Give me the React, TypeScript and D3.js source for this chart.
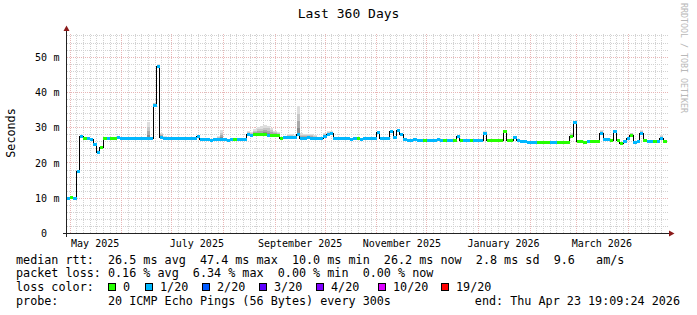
import * as d3 from 'd3';

const W = 697;
const H = 315;
const DAY = 86400000;
const endTime = new Date(2026, 3, 23, 19, 9, 24);
const startTime = new Date(endTime.getTime() - 360 * DAY);
const STEP_DAYS = 2;

// median rtt in ms, one value every 2 days
const medianRtt = [
  10.0, 10.1, 10.0, 17.5, 27.4, 26.8, 26.8, 26.7, 25.3, 23.1,
  24.5, 26.8, 26.9, 26.9, 26.8, 27.1, 26.9, 26.9, 26.8, 26.9,
  27.0, 26.9, 26.8, 26.9, 27.0, 26.8, 36.3, 47.4, 27.3, 26.8,
  26.9, 26.9, 26.8, 26.9, 26.9, 26.8, 26.9, 26.9, 26.8, 27.5,
  26.7, 26.6, 26.6, 26.5, 26.6, 26.6, 26.7, 26.6, 26.5, 26.6,
  26.7, 26.6, 26.6, 26.6, 28.2, 27.9, 28.0, 28.1, 28.0, 28.1,
  27.9, 27.8, 27.7, 27.9, 26.8, 27.1, 27.3, 27.2, 27.3, 28.2,
  27.0, 27.0, 27.1, 26.9, 27.0, 27.0, 26.9, 27.5, 28.0, 28.3,
  26.8, 26.9, 26.8, 26.8, 26.9, 26.7, 26.8, 26.8, 26.7, 26.8,
  26.8, 26.9, 26.8, 28.5, 26.9, 26.9, 26.9, 28.8, 27.2, 29.1,
  28.0, 26.6, 26.5, 26.5, 26.6, 26.5, 26.5, 26.4, 26.5, 26.5,
  26.5, 26.6, 26.5, 26.4, 26.5, 26.5, 26.5, 27.4, 26.5, 26.4,
  26.5, 26.5, 26.4, 26.5, 26.4, 28.3, 26.4, 26.3, 26.4, 26.4,
  26.4, 28.8, 26.4, 26.4, 27.1, 26.3, 26.2, 26.0, 25.9, 25.8,
  25.9, 25.9, 25.8, 25.9, 25.8, 25.9, 25.8, 25.8, 25.7, 25.8,
  25.8, 27.4, 31.4, 26.0, 26.0, 25.9, 26.0, 26.1, 26.0, 26.1,
  28.3, 26.6, 26.6, 26.5, 28.8, 26.4, 25.5, 26.0, 26.9, 27.8,
  25.8, 26.0, 28.3, 26.4, 26.2, 26.1, 26.2, 26.0, 27.0, 26.2,
];

// loss bucket per step: 0 = no loss, 1 = 1/20
const lossBucket = [
  1, 0, 1, 1, 1, 0, 1, 1, 1, 1,
  0, 0, 1, 0, 0, 1, 1, 1, 1, 1,
  1, 1, 1, 1, 1, 1, 1, 1, 1, 1,
  1, 1, 1, 1, 1, 1, 1, 1, 1, 1,
  1, 1, 1, 1, 1, 1, 1, 1, 1, 1,
  0, 1, 1, 1, 1, 1, 0, 0, 0, 0,
  1, 0, 0, 0, 0, 1, 1, 1, 1, 1,
  1, 1, 1, 1, 1, 1, 1, 1, 1, 1,
  1, 1, 1, 1, 1, 1, 1, 0, 1, 1,
  1, 1, 1, 1, 1, 1, 1, 1, 1, 1,
  1, 1, 1, 1, 1, 1, 1, 0, 1, 1,
  1, 1, 1, 0, 1, 1, 0, 1, 0, 1,
  1, 0, 1, 1, 1, 1, 0, 0, 0, 0,
  0, 0, 0, 0, 1, 1, 1, 1, 1, 1,
  1, 0, 0, 0, 0, 1, 1, 0, 0, 0,
  0, 0, 1, 0, 0, 0, 1, 0, 0, 0,
  1, 1, 1, 0, 1, 0, 0, 1, 1, 0,
  1, 1, 1, 0, 1, 1, 0, 1, 1, 0,
];

// smoke: spread of the slowest pings above the median, ms
const smokeSpread = [
  0.2, 0.2, 0.2, 0.3, 0.4, 0.3, 0.3, 0.3, 0.4, 0.5,
  0.4, 0.3, 0.3, 0.3, 0.3, 0.5, 0.3, 0.3, 0.3, 0.3,
  0.3, 0.4, 0.3, 0.3, 4.5, 0.5, 0.8, 0.6, 1.2, 0.8,
  0.3, 0.3, 0.3, 0.3, 0.3, 0.3, 0.3, 0.3, 0.3, 0.5,
  0.3, 0.3, 0.3, 0.3, 0.4, 1.0, 2.6, 0.5, 0.3, 0.3,
  0.3, 0.3, 0.3, 0.4, 0.8, 1.0, 1.5, 2.0, 2.5, 2.6,
  2.7, 2.2, 1.5, 0.8, 0.4, 0.5, 0.8, 1.0, 0.6, 8.0,
  1.4, 1.2, 1.0, 1.4, 0.8, 0.4, 0.3, 1.0, 1.0, 0.8,
  0.3, 0.3, 0.3, 0.3, 0.3, 0.3, 0.3, 0.3, 0.3, 0.3,
  0.3, 0.3, 0.3, 0.6, 0.3, 0.3, 0.4, 0.5, 0.3, 0.5,
  0.4, 0.3, 0.3, 0.3, 0.3, 0.3, 0.3, 0.3, 0.3, 0.3,
  0.3, 0.3, 0.3, 0.3, 0.3, 0.3, 0.3, 0.5, 0.3, 0.3,
  0.3, 0.3, 0.3, 0.3, 0.3, 0.8, 0.3, 0.3, 0.3, 0.3,
  0.3, 0.6, 0.3, 0.3, 0.4, 0.3, 0.3, 0.3, 0.3, 0.3,
  0.3, 0.3, 0.3, 0.3, 0.3, 0.3, 0.3, 0.3, 0.3, 0.3,
  0.3, 1.0, 0.6, 0.3, 0.3, 0.3, 0.3, 0.3, 0.3, 0.3,
  1.0, 0.3, 0.3, 0.3, 0.5, 0.3, 0.3, 0.3, 0.4, 0.8,
  0.3, 0.3, 1.0, 0.3, 0.3, 0.3, 0.3, 0.3, 1.0, 0.3,
];

const yTicks = [0, 10, 20, 30, 40, 50];
const yTickUnits = ['', 'm', 'm', 'm', 'm', 'm'];

const lossColors = ['#26ff00', '#00b8ff', '#0059ff', '#5e00ff', '#7e00ff', '#dd00ff', '#ff0000'];
const lossLabels = ['0', '1/20', '2/20', '3/20', '4/20', '10/20', '19/20'];

const legendRtt = 'median rtt:  26.5 ms avg  47.4 ms max  10.0 ms min  26.2 ms now  2.8 ms sd  9.6   am/s';
const legendLoss = 'packet loss: 0.16 % avg  6.34 % max  0.00 % min  0.00 % now';
const legendProbe = 'probe:       20 ICMP Echo Pings (56 Bytes) every 300s';
const legendEnd = 'end: Thu Apr 23 19:09:24 2026';

// layout
const plotL = 66.5;
const plotR = 666.5;
const plotT = 33.5;
const plotB = 233.5;
const yMax = 56.7;
const LEGEND_BOX_X = [109, 146, 203, 260, 317, 379, 442];
const MONO = '"DejaVu Sans Mono", monospace';

const smokeLayers = [
  { f: 1, color: '#dedede' },
  { f: 0.7, color: '#c6c6c6' },
  { f: 0.45, color: '#a8a8a8' },
  { f: 0.22, color: '#8a8a8a' },
];

type Pt = { t: Date; v: number; s: number; loss: number };

export default function App() {
  const x = d3.scaleTime().domain([startTime, endTime]).range([plotL, plotR]);
  const y = d3.scaleLinear().domain([0, yMax]).range([plotB, plotT]);
  const snap = (p: number) => Math.round(p - 0.5) + 0.5;

  const pts: Pt[] = medianRtt.map((v, i) => ({
    t: new Date(startTime.getTime() + i * STEP_DAYS * DAY),
    v,
    s: smokeSpread[i],
    loss: lossBucket[i],
  }));
  const stepPts: Pt[] = [...pts, { ...pts[pts.length - 1], t: endTime }];

  const medianLine = d3
    .line<Pt>()
    .x(d => x(d.t))
    .y(d => y(d.v))
    .curve(d3.curveStepAfter);

  const smokeArea = (f: number) =>
    d3
      .area<Pt>()
      .x(d => x(d.t))
      .y0(d => y(d.v))
      .y1(d => y(d.v + d.s * f))
      .curve(d3.curveStepAfter)(stepPts) || '';

  const majorX = d3.timeMonth.range(startTime, endTime);
  const minorX = d3.timeDay
    .every(4)!
    .range(startTime, endTime)
    .filter(d => d.getDate() !== 1);
  const labelMonths = d3.timeMonth.every(2)!.range(startTime, endTime);
  const fmtMonth = d3.timeFormat('%B %Y');

  const minorY = d3.range(0, yMax, 2).filter(v => v % 10 !== 0);
  const majorY = yTicks.filter(v => v > 0);

  return (
    <svg
      width={W}
      height={H}
      viewBox={`0 0 ${W} ${H}`}
      style={{ position: 'absolute', left: 0, top: 0, background: '#fff' }}
      fontFamily={MONO}
    >
      <rect x={0} y={0} width={W} height={H} fill="#fff" />

      {/* grid */}
      <g shapeRendering="crispEdges" strokeDasharray="1,1" strokeWidth={1}>
        {minorX.map(d => (
          <line key={'mx' + d.getTime()} x1={snap(x(d))} x2={snap(x(d))} y1={plotT} y2={plotB} stroke="#d2d2d2" />
        ))}
        {minorY.map(v => (
          <line key={'my' + v} x1={plotL} x2={plotR + 2} y1={snap(y(v))} y2={snap(y(v))} stroke="#d2d2d2" />
        ))}
        {majorX.map(d => (
          <line key={'Mx' + d.getTime()} x1={snap(x(d))} x2={snap(x(d))} y1={plotT} y2={plotB} stroke="#e8b6b6" />
        ))}
        {majorY.map(v => (
          <line key={'My' + v} x1={plotL} x2={plotR + 2} y1={snap(y(v))} y2={snap(y(v))} stroke="#e8b6b6" />
        ))}
      </g>

      {/* smoke */}
      <g shapeRendering="crispEdges">
        {smokeLayers.map(l => (
          <path key={l.f} d={smokeArea(l.f)} fill={l.color} />
        ))}
      </g>

      {/* median */}
      <path d={medianLine(stepPts) || ''} fill="none" stroke="#000" strokeWidth={1} shapeRendering="crispEdges" />
      <g shapeRendering="crispEdges">
        {pts.map((d, i) => (
          <line
            key={'seg' + i}
            x1={x(d.t)}
            x2={x(stepPts[i + 1].t)}
            y1={y(d.v)}
            y2={y(d.v)}
            stroke={lossColors[d.loss]}
            strokeWidth={3}
          />
        ))}
      </g>

      {/* axes */}
      <g shapeRendering="crispEdges" stroke="#222" strokeWidth={1}>
        <line x1={63} x2={670} y1={plotB} y2={plotB} />
        <line x1={plotL} x2={plotL} y1={plotB + 3} y2={30} />
      </g>
      <polygon points={`${plotL - 3},31 ${plotL + 3},31 ${plotL},25.5`} fill="#8b1a1a" />
      <polygon points={`669,${plotB - 3} 669,${plotB + 3} 674.5,${plotB}`} fill="#8b1a1a" />

      {/* y labels */}
      <g fontSize={10} fill="#000">
        {yTicks.map((v, i) => (
          <g key={'yl' + v}>
            <text x={47} y={y(v) + 3.6} textAnchor="end">
              {String(v)}
            </text>
            {yTickUnits[i] && (
              <text x={53.5} y={y(v) + 3.6}>
                {yTickUnits[i]}
              </text>
            )}
          </g>
        ))}
      </g>

      {/* x labels */}
      <g fontSize={10} fill="#000" textAnchor="middle">
        {labelMonths.map(d => (
          <text key={'xl' + d.getTime()} x={x(d3.timeDay.offset(d, 15))} y={246.5}>
            {fmtMonth(d)}
          </text>
        ))}
      </g>

      {/* title & labels */}
      <text x={348.5} y={18.3} fontSize={13} textAnchor="middle" fill="#000">
        Last 360 Days
      </text>
      <text transform="translate(15,133) rotate(-90)" fontSize={11.75} textAnchor="middle" fill="#000">
        Seconds
      </text>
      <text transform="translate(681,58) rotate(90)" fontSize={8.3} textAnchor="middle" fill="#b8b8b8">
        RRDTOOL / TOBI OETIKER
      </text>

      {/* legend */}
      <g fontSize={11.75} fill="#000" style={{ whiteSpace: 'pre' }}>
        <text x={16} y={263.5} xmlSpace="preserve">{legendRtt}</text>
        <text x={16} y={277.2} xmlSpace="preserve">{legendLoss}</text>
        <text x={16} y={290.9} xmlSpace="preserve">loss color:</text>
        {lossLabels.map((lab, i) => (
          <g key={'lg' + i}>
            <rect
              x={LEGEND_BOX_X[i] - 0.5}
              y={283.5}
              width={7}
              height={7}
              fill={lossColors[i]}
              stroke="#000"
              shapeRendering="crispEdges"
            />
            <text x={LEGEND_BOX_X[i] + 14} y={290.9}>
              {lab}
            </text>
          </g>
        ))}
        <text x={16} y={304.6} xmlSpace="preserve">{legendProbe}</text>
        <text x={680} y={304.6} textAnchor="end">{legendEnd}</text>
      </g>
    </svg>
  );
}
